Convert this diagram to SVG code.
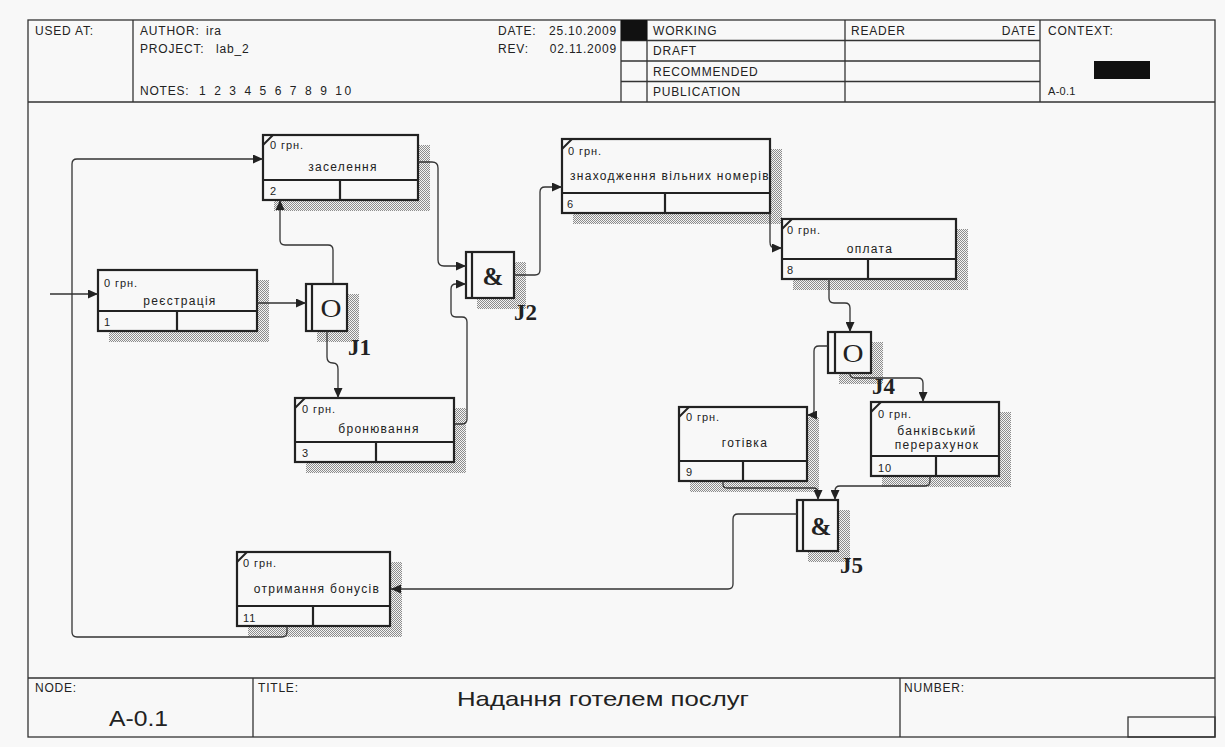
<svg xmlns="http://www.w3.org/2000/svg" width="1225" height="747" viewBox="0 0 1225 747">
<style>
.frame{fill:none;stroke:#333;stroke-width:1.3}
.hl{stroke:#333;stroke-width:1.3}
.ht{font-family:"Liberation Sans",Arial,sans-serif;font-size:12px;fill:#222;letter-spacing:0.8px}
.box{fill:#f8f8f8;stroke:#222;stroke-width:2.2}
.bl{stroke:#222;stroke-width:2.2}
.sh{fill:url(#hatch)}
.cost{font-family:"Liberation Sans",Arial,sans-serif;font-size:11px;fill:#222;letter-spacing:0.9px}
.name{font-family:"Liberation Sans",Arial,sans-serif;font-size:12px;fill:#222;letter-spacing:1.3px;text-anchor:middle}
.num{font-family:"Liberation Sans",Arial,sans-serif;font-size:11px;fill:#222;letter-spacing:0.9px}
.jsym{font-family:"Liberation Serif","Times New Roman",serif;font-size:25px;fill:#222;text-anchor:middle}
.jlab{font-family:"Liberation Serif","Times New Roman",serif;font-size:23px;font-weight:bold;fill:#222}
.con{fill:none;stroke:#333;stroke-width:1.3;marker-end:url(#arr)}
.corner{stroke:#222;stroke-width:2}
</style>
<defs>
<pattern id="hatch" width="2" height="2" patternUnits="userSpaceOnUse">
<rect width="2" height="2" fill="#f4f4f4"/>
<rect width="1" height="1" fill="#8c8c8c"/>
<rect x="1" y="1" width="1" height="1" fill="#8c8c8c"/>
</pattern>
<marker id="arr" markerUnits="userSpaceOnUse" markerWidth="11" markerHeight="9" refX="10" refY="4.5" orient="auto">
<path d="M0,0 L10,4.5 L0,9 z" fill="#222"/>
</marker>
<clipPath id="clip6"><rect x="562" y="139" width="208" height="54"/></clipPath>
</defs>
<rect width="1225" height="747" fill="#f8f8f8"/>

<g id="frame">
<rect class="frame" x="28" y="20" width="1187" height="717"/>
<line class="hl" x1="28" y1="102" x2="1215" y2="102"/>
<line class="hl" x1="133" y1="20" x2="133" y2="102"/>
<line class="hl" x1="621" y1="20" x2="621" y2="102"/>
<line class="hl" x1="647" y1="20" x2="647" y2="102"/>
<line class="hl" x1="845" y1="20" x2="845" y2="102"/>
<line class="hl" x1="1040" y1="20" x2="1040" y2="102"/>
<line class="hl" x1="621" y1="40.5" x2="1040" y2="40.5"/>
<line class="hl" x1="621" y1="61" x2="1040" y2="61"/>
<line class="hl" x1="621" y1="81.5" x2="1040" y2="81.5"/>
<rect x="621" y="20" width="26" height="20.5" fill="#111"/>
<rect x="1094" y="61" width="56" height="18" fill="#111"/>
<text class="ht" x="35" y="35">USED AT:</text>
<text class="ht" x="140" y="35">AUTHOR:</text>
<text class="ht" x="206" y="35">ira</text>
<text class="ht" x="140" y="53">PROJECT:</text>
<text class="ht" x="216" y="53">lab_2</text>
<text class="ht" x="140" y="95">NOTES:</text>
<text class="ht" x="199" y="95" textLength="153" lengthAdjust="spacing">1 2 3 4 5 6 7 8 9 10</text>
<text class="ht" x="498" y="35">DATE:</text>
<text class="ht" x="617" y="35" text-anchor="end">25.10.2009</text>
<text class="ht" x="498" y="53">REV:</text>
<text class="ht" x="617" y="53" text-anchor="end">02.11.2009</text>
<text class="ht" x="653" y="35">WORKING</text>
<text class="ht" x="653" y="55">DRAFT</text>
<text class="ht" x="653" y="76">RECOMMENDED</text>
<text class="ht" x="653" y="96">PUBLICATION</text>
<text class="ht" x="851" y="35">READER</text>
<text class="ht" x="1036" y="35" text-anchor="end">DATE</text>
<text class="ht" x="1048" y="35">CONTEXT:</text>
<text class="ht" x="1048" y="95" style="font-size:11px;letter-spacing:0.3px">A-0.1</text>
<line class="hl" x1="28" y1="678" x2="1215" y2="678"/>
<line class="hl" x1="253" y1="678" x2="253" y2="737"/>
<line class="hl" x1="900" y1="678" x2="900" y2="737"/>
<rect class="frame" x="1128" y="717" width="87" height="20"/>
<text class="ht" x="35" y="692">NODE:</text>
<text class="ht" x="258" y="692">TITLE:</text>
<text class="ht" x="904" y="692">NUMBER:</text>
<text x="109" y="726" style="font-family:'Liberation Sans',Arial,sans-serif;font-size:22px;fill:#222" textLength="59" lengthAdjust="spacingAndGlyphs">A-0.1</text>
<text x="457" y="706" style="font-family:'Liberation Sans',Arial,sans-serif;font-size:21px;fill:#222" textLength="292" lengthAdjust="spacingAndGlyphs">Надання готелем послуг</text>
</g>

<g id="node1">
<rect class="sh" x="109" y="280" width="160" height="62"/>
<rect class="box" x="98" y="270" width="159" height="61"/>
<line class="bl" x1="98" y1="311" x2="257" y2="311"/>
<line class="bl" x1="177" y1="311" x2="177" y2="331"/>
<text class="cost" x="104" y="287">0 грн.</text>
<text class="name" x="180" y="305">реєстрація</text>
<text class="num" x="104" y="326">1</text>
</g>

<g id="node2">
<rect class="sh" x="274" y="145" width="156" height="66"/>
<rect class="box" x="263" y="135" width="155" height="65"/>
<line class="bl" x1="263" y1="180" x2="418" y2="180"/>
<line class="bl" x1="340" y1="180" x2="340" y2="200"/>
<line class="corner" x1="263" y1="145" x2="273" y2="135"/>
<text class="cost" x="270" y="149">0 грн.</text>
<text class="name" x="343" y="171">заселення</text>
<text class="num" x="270" y="195">2</text>
</g>

<g id="node3">
<rect class="sh" x="306" y="408" width="160" height="65"/>
<rect class="box" x="295" y="398" width="159" height="64"/>
<line class="bl" x1="295" y1="442" x2="454" y2="442"/>
<line class="bl" x1="376" y1="442" x2="376" y2="462"/>
<line class="corner" x1="295" y1="408" x2="305" y2="398"/>
<text class="cost" x="302" y="413">0 грн.</text>
<text class="name" x="379" y="433">бронювання</text>
<text class="num" x="302" y="457">3</text>
</g>

<g id="node6">
<rect class="sh" x="573" y="149" width="209" height="75"/>
<rect class="box" x="562" y="139" width="208" height="74"/>
<line class="bl" x1="562" y1="193" x2="770" y2="193"/>
<line class="bl" x1="665" y1="193" x2="665" y2="213"/>
<line class="corner" x1="562" y1="149" x2="572" y2="139"/>
<text class="cost" x="568" y="155">0 грн.</text>
<text class="name" x="570" y="180" clip-path="url(#clip6)" style="text-anchor:start">знаходження вільних номерів</text>
<text class="num" x="567" y="208">6</text>
</g>

<g id="node8">
<rect class="sh" x="793" y="229" width="175" height="61"/>
<rect class="box" x="782" y="219" width="174" height="60"/>
<line class="bl" x1="782" y1="259" x2="956" y2="259"/>
<line class="bl" x1="868" y1="259" x2="868" y2="279"/>
<line class="corner" x1="782" y1="229" x2="792" y2="219"/>
<text class="cost" x="787" y="234">0 грн.</text>
<text class="name" x="870" y="253">оплата</text>
<text class="num" x="787" y="274">8</text>
</g>

<g id="node9">
<rect class="sh" x="690" y="417" width="129" height="75"/>
<rect class="box" x="679" y="407" width="128" height="74"/>
<line class="bl" x1="679" y1="461" x2="807" y2="461"/>
<line class="bl" x1="743" y1="461" x2="743" y2="481"/>
<line class="corner" x1="679" y1="417" x2="689" y2="407"/>
<text class="cost" x="686" y="421">0 грн.</text>
<text class="name" x="745" y="447">готівка</text>
<text class="num" x="686" y="476">9</text>
</g>

<g id="node10">
<rect class="sh" x="882" y="412" width="129" height="75"/>
<rect class="box" x="871" y="402" width="128" height="74"/>
<line class="bl" x1="871" y1="456" x2="999" y2="456"/>
<line class="bl" x1="936" y1="456" x2="936" y2="476"/>
<line class="corner" x1="871" y1="412" x2="881" y2="402"/>
<text class="cost" x="878" y="418">0 грн.</text>
<text class="name" x="937" y="435">банківський</text>
<text class="name" x="937" y="449">перерахунок</text>
<text class="num" x="878" y="472">10</text>
</g>

<g id="node11">
<rect class="sh" x="248" y="562" width="154" height="75"/>
<rect class="box" x="237" y="552" width="153" height="74"/>
<line class="bl" x1="237" y1="606" x2="390" y2="606"/>
<line class="bl" x1="313" y1="606" x2="313" y2="626"/>
<line class="corner" x1="237" y1="562" x2="247" y2="552"/>
<text class="cost" x="243" y="567">0 грн.</text>
<text class="name" x="317" y="593">отримання бонусів</text>
<text class="num" x="243" y="622">11</text>
</g>

<g id="J1">
<rect class="sh" x="317" y="294" width="42" height="48"/>
<rect class="box" x="306" y="284" width="41" height="47"/>
<line class="bl" x1="312" y1="284" x2="312" y2="331"/>
<text class="jsym" x="331" y="317" textLength="21" lengthAdjust="spacingAndGlyphs">O</text>
<text class="jlab" x="348" y="355">J1</text>
</g>

<g id="J2">
<rect class="sh" x="477" y="262" width="49" height="47"/>
<rect class="box" x="466" y="252" width="48" height="46"/>
<line class="bl" x1="472" y1="252" x2="472" y2="298"/>
<text class="jsym" x="493" y="285" style="font-weight:bold">&amp;</text>
<text class="jlab" x="514" y="320">J2</text>
</g>

<g id="J4">
<rect class="sh" x="839" y="342" width="44" height="42"/>
<rect class="box" x="828" y="332" width="43" height="41"/>
<line class="bl" x1="835" y1="332" x2="835" y2="373"/>
<text class="jsym" x="853" y="362" textLength="21" lengthAdjust="spacingAndGlyphs">O</text>
<text class="jlab" x="872" y="394">J4</text>
</g>

<g id="J5">
<rect class="sh" x="808" y="510" width="42" height="52"/>
<rect class="box" x="797" y="500" width="41" height="51"/>
<line class="bl" x1="803" y1="500" x2="803" y2="551"/>
<text class="jsym" x="821" y="535" style="font-weight:bold">&amp;</text>
<text class="jlab" x="840" y="573">J5</text>
</g>

<g id="connectors">
<path class="con" d="M50,294 H98"/>
<path class="con" d="M257,303 H306"/>
<path class="con" d="M333,284 V250 Q333,245 328,245 H285 Q280,245 280,240 V200"/>
<path class="con" d="M327,331 V357 Q327,363 333,363 Q338,363 338,369 V398"/>
<path class="con" d="M418,162 H432 Q438,162 438,168 V260 Q438,266 444,266 H466"/>
<path class="con" d="M455,424 H462 Q467,424 467,419 V322 Q467,317 462,317 H456 Q451,317 451,312 V289 Q451,284 456,284 H466"/>
<path class="con" d="M514,275 H535 Q540,275 540,270 V192 Q540,187 545,187 H562"/>
<path class="con" d="M770,213 V242 Q770,248 775,248 H782"/>
<path class="con" d="M829,279 V298 Q829,303 834,303 H845 Q850,303 850,308 V332"/>
<path class="con" d="M828,346 H819 Q814,346 814,351 V410 Q814,415 810,415 H807"/>
<path class="con" d="M850,373 V374 Q850,378 855,378 H918 Q923,378 923,383 V402"/>
<path class="con" d="M723,481 V484 Q723,488 727,488 H813 Q818,488 818,492 V500"/>
<path class="con" d="M930,476 V481 Q930,486 925,486 H840 Q835,486 835,491 V500"/>
<path class="con" d="M797,514 H738 Q733,514 733,519 V584 Q733,589 728,589 H391"/>
<path class="con" d="M287,626 V632 Q287,637 282,637 H77 Q72,637 72,632 V164 Q72,159 77,159 H263"/>
</g>
</svg>
